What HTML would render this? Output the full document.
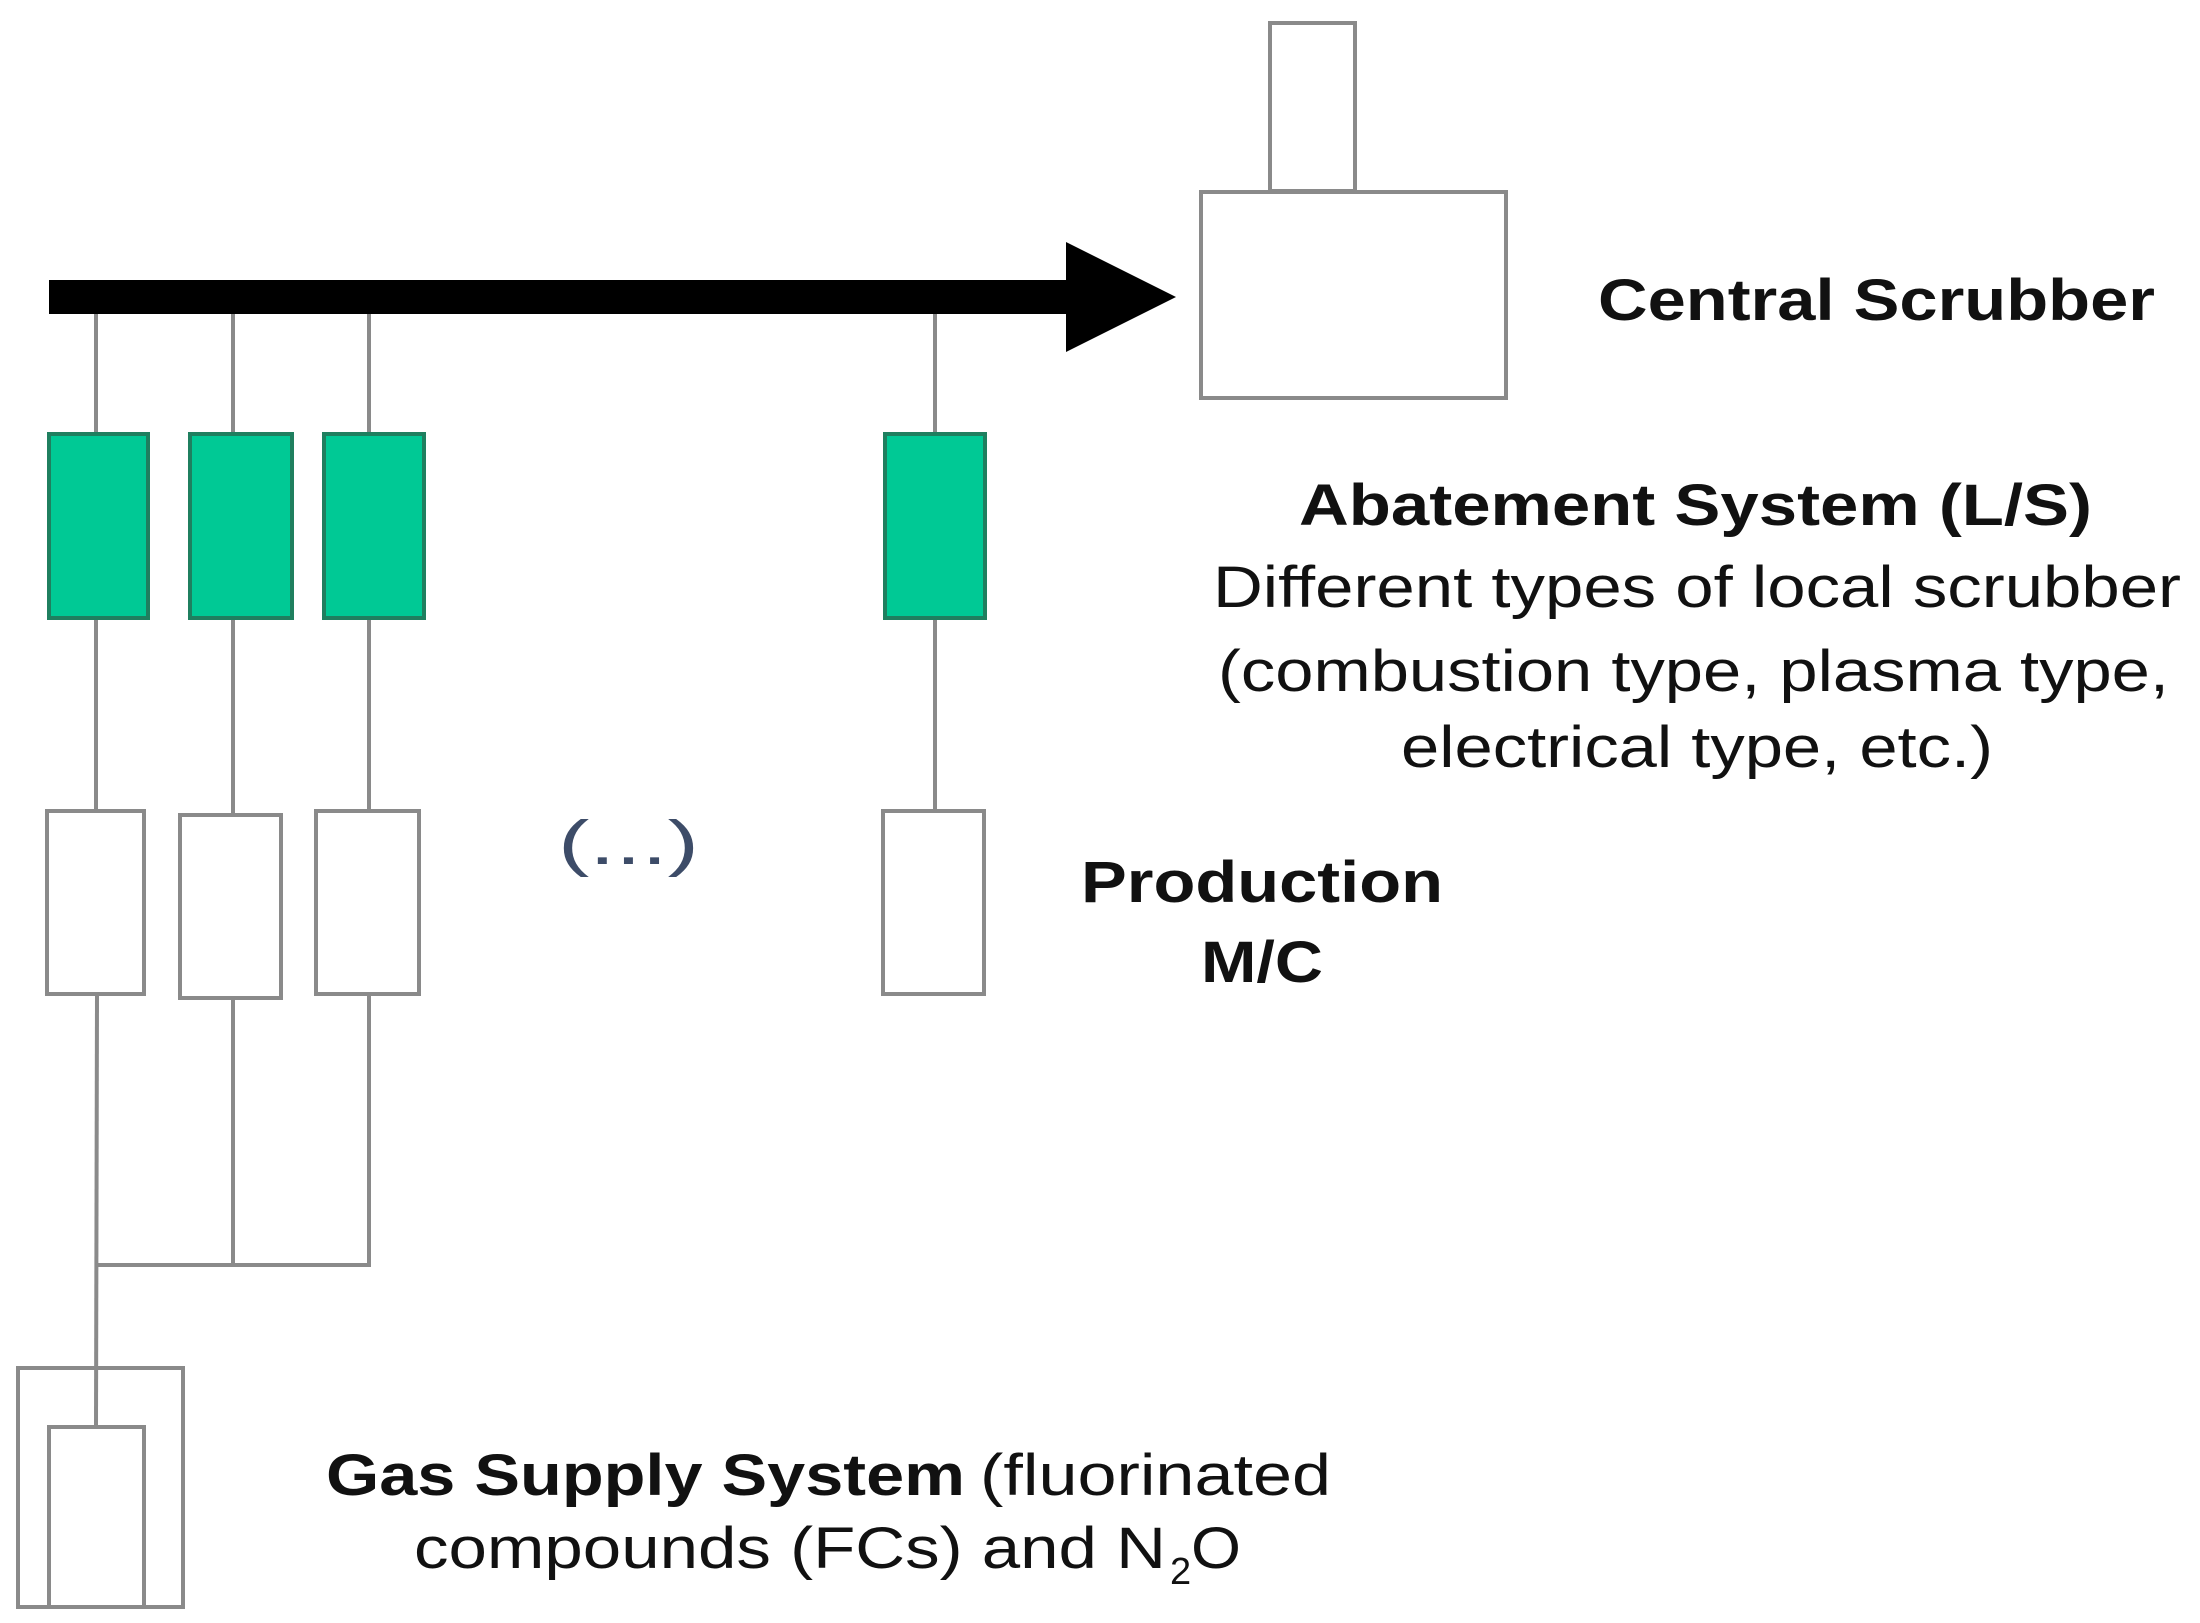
<!DOCTYPE html>
<html><head><meta charset="utf-8"><style>
html,body{margin:0;padding:0;background:#fff;}
svg{display:block;}
text{font-family:"Liberation Sans",Arial,sans-serif;fill:#111;}
</style></head><body>
<svg width="2200" height="1623" viewBox="0 0 2200 1623" xmlns="http://www.w3.org/2000/svg">
<g fill="none" stroke="#8a8a8a" stroke-width="4">
  <rect x="1270" y="23" width="85" height="168" fill="#fff"/>
  <rect x="1201" y="192" width="305" height="206" fill="#fff"/>
  <line x1="96" y1="300" x2="96" y2="811"/>
  <line x1="233" y1="300" x2="233" y2="815"/>
  <line x1="369" y1="300" x2="369" y2="811"/>
  <line x1="935" y1="300" x2="935" y2="811"/>
  <line x1="97" y1="994" x2="96" y2="1427"/>
  <line x1="233" y1="998" x2="233" y2="1265"/>
  <line x1="369" y1="994" x2="369" y2="1265"/>
  <line x1="96" y1="1265" x2="371" y2="1265"/>
  <rect x="47" y="811" width="97" height="183" fill="#fff"/>
  <rect x="180" y="815" width="101" height="183" fill="#fff"/>
  <rect x="316" y="811" width="103" height="183" fill="#fff"/>
  <rect x="883" y="811" width="101" height="183" fill="#fff"/>
  <rect x="18" y="1368" width="165" height="239"/>
  <path d="M49 1607 V1427 H144 V1607"/>
</g>
<g fill="#00c995" stroke="#1f7f5f" stroke-width="4">
  <rect x="49" y="434" width="99" height="184"/>
  <rect x="190" y="434" width="102" height="184"/>
  <rect x="324" y="434" width="100" height="184"/>
  <rect x="885" y="434" width="100" height="184"/>
</g>
<rect x="49" y="280" width="1024" height="34" fill="#000"/>
<polygon points="1066,242 1176,297 1066,352" fill="#000"/>
<text x="558" y="864" font-size="62" textLength="141" lengthAdjust="spacingAndGlyphs" style="fill:#3d4c68">(...)</text>
<text x="1598" y="320" font-size="58" font-weight="bold" textLength="557" lengthAdjust="spacingAndGlyphs">Central Scrubber</text>
<text x="1299" y="525" font-size="58" font-weight="bold" textLength="793" lengthAdjust="spacingAndGlyphs">Abatement System (L/S)</text>
<text x="1213" y="607" font-size="58" textLength="968" lengthAdjust="spacingAndGlyphs">Different types of local scrubber</text>
<text x="1218" y="691" font-size="58" textLength="951" lengthAdjust="spacingAndGlyphs">(combustion type, plasma type,</text>
<text x="1401" y="767" font-size="58" textLength="592" lengthAdjust="spacingAndGlyphs">electrical type, etc.)</text>
<text x="1081" y="902" font-size="58" font-weight="bold" textLength="362" lengthAdjust="spacingAndGlyphs">Production</text>
<text x="1201" y="982" font-size="58" font-weight="bold" textLength="122" lengthAdjust="spacingAndGlyphs">M/C</text>
<text x="326" y="1495" font-size="58" font-weight="bold" textLength="639" lengthAdjust="spacingAndGlyphs">Gas Supply System</text>
<text x="980" y="1495" font-size="58" textLength="351" lengthAdjust="spacingAndGlyphs">(fluorinated</text>
<text x="414" y="1568" font-size="58" textLength="752" lengthAdjust="spacingAndGlyphs">compounds (FCs) and N</text>
<text x="1170" y="1584" font-size="38">2</text>
<text x="1191" y="1568" font-size="58" textLength="50" lengthAdjust="spacingAndGlyphs">O</text>
</svg>
</body></html>
